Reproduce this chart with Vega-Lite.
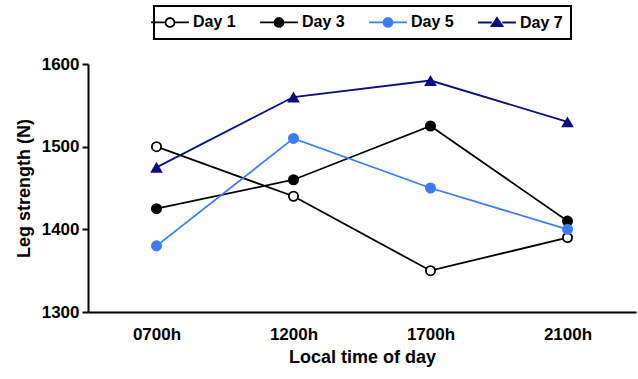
{
  "$schema": "https://vega.github.io/schema/vega-lite/v6.json",
  "autosize": {"type": "none"},
  "padding": {"left": 88, "top": 64, "right": 2, "bottom": 67},
  "width": 548,
  "height": 248,
  "background": "white",
  "data": {
    "values": [
      {"time": "0700h", "day": "Day 1", "strength": 1500},
      {"time": "1200h", "day": "Day 1", "strength": 1440},
      {"time": "1700h", "day": "Day 1", "strength": 1350},
      {"time": "2100h", "day": "Day 1", "strength": 1390},
      {"time": "0700h", "day": "Day 3", "strength": 1425},
      {"time": "1200h", "day": "Day 3", "strength": 1460},
      {"time": "1700h", "day": "Day 3", "strength": 1525},
      {"time": "2100h", "day": "Day 3", "strength": 1410},
      {"time": "0700h", "day": "Day 5", "strength": 1380},
      {"time": "1200h", "day": "Day 5", "strength": 1510},
      {"time": "1700h", "day": "Day 5", "strength": 1450},
      {"time": "2100h", "day": "Day 5", "strength": 1400},
      {"time": "0700h", "day": "Day 7", "strength": 1475},
      {"time": "1200h", "day": "Day 7", "strength": 1560},
      {"time": "1700h", "day": "Day 7", "strength": 1580},
      {"time": "2100h", "day": "Day 7", "strength": 1530}
    ]
  },
  "encoding": {
    "x": {
      "field": "time", "type": "ordinal",
      "scale": {"type": "point", "padding": 0.5},
      "axis": {"title": "Local time of day", "labelAngle": 0, "ticks": false, "labelPadding": 14, "titlePadding": 6}
    },
    "y": {
      "field": "strength", "type": "quantitative",
      "scale": {"domain": [1300, 1600], "nice": false, "zero": false},
      "axis": {"title": "Leg strength (N)", "values": [1300, 1400, 1500, 1600], "format": "d", "grid": false, "labelPadding": 3, "titlePadding": 8}
    }
  },
  "layer": [
    {
      "mark": {"type": "line", "strokeWidth": 1.8},
      "encoding": {
        "stroke": {
          "field": "day", "type": "nominal",
          "scale": {"domain": ["Day 1", "Day 3", "Day 5", "Day 7"], "range": ["#000000", "#000000", "#3b7cf4", "#0c0c80"]},
          "legend": {
            "title": null,
            "encode": {
              "symbols": {
                "update": {
                  "shape": {"signal": "datum.value == 'Day 7' ? 'M-3.27,0M-2.7,0H-0.75M0.75,0H2.7M0,-0.65L0.78,0.52L-0.78,0.52Z' : 'M-3.27,0M-2.7,0H-0.64M0.64,0H2.7M0.64,0C0.64,0.3535,0.3535,0.64,0,0.64C-0.3535,0.64,-0.64,0.3535,-0.64,0C-0.64,-0.3535,-0.3535,-0.64,0,-0.64C0.3535,-0.64,0.64,-0.3535,0.64,0Z'"},
                  "stroke": {"signal": "datum.value == 'Day 5' ? '#3b7cf4' : datum.value == 'Day 7' ? '#0c0c80' : '#000000'"},
                  "strokeWidth": {"value": 1.8},
                  "opacity": {"value": 1}
                }
              }
            }
          }
        }
      }
    },
    {
      "transform": [{"filter": "datum.day != 'Day 7'"}],
      "mark": {"type": "point", "shape": "circle", "size": 85, "filled": false, "strokeWidth": 1.8, "opacity": 1},
      "encoding": {
        "stroke": {"field": "day", "type": "nominal", "legend": {"title": null}},
        "fill": {
          "field": "day", "type": "nominal",
          "scale": {"domain": ["Day 1", "Day 3", "Day 5", "Day 7"], "range": ["#ffffff", "#000000", "#3b7cf4", "#0c0c80"]},
          "legend": {"title": null}
        }
      }
    },
    {
      "transform": [{"filter": "datum.day == 'Day 7'"}],
      "mark": {"type": "point", "shape": "triangle-up", "size": 160, "filled": true, "opacity": 1},
      "encoding": {
        "fill": {"field": "day", "type": "nominal", "legend": {"title": null}}
      }
    }
  ],
  "config": {
    "view": {"stroke": null},
    "legend": {
      "orient": "none",
      "direction": "horizontal",
      "columns": 4,
      "legendX": 66,
      "legendY": -58,
      "padding": 8,
      "strokeColor": "#000000",
      "strokeWidth": 2,
      "fillColor": "#ffffff",
      "symbolSize": 196,
      "symbolStrokeWidth": 1.8,
      "labelOffset": 15,
      "columnPadding": 16,
      "labelFont": "Liberation Sans",
      "labelFontWeight": "bold",
      "labelFontSize": 16,
      "labelColor": "#000000"
    },
    "axis": {
      "domainColor": "#000000",
      "domainWidth": 2,
      "tickColor": "#000000",
      "tickWidth": 2,
      "tickSize": 6,
      "labelFont": "Liberation Sans",
      "labelFontWeight": "bold",
      "labelFontSize": 17,
      "labelColor": "#000000",
      "titleFont": "Liberation Sans",
      "titleFontWeight": "bold",
      "titleFontSize": 18,
      "titleColor": "#000000"
    }
  }
}
